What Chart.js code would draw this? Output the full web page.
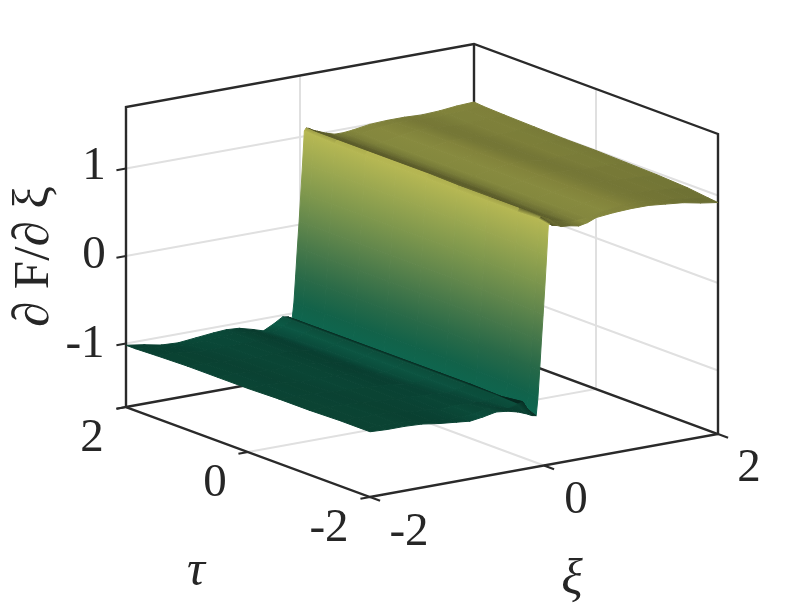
<!DOCTYPE html>
<html><head><meta charset="utf-8">
<style>html,body{margin:0;padding:0;background:#fff}canvas{display:block}</style>
<script src="https://cdn.jsdelivr.net/npm/chart.js@4"></script>
</head><body><canvas id="c" width="793" height="604"></canvas>
<script>
const xiValues=[-2,-1.8,-1.6,-1.4,-1.2,-1,-.85,-.7,-.55,-.42,-.3,-.2,-.14,-.09,-.07,-.05,-.03,-.01,.01,.03,.05,.07,.1,.15,.2,.3,.4,.5,.6,.8,1,1.2,1.4,1.6,1.8,2];
const tauValues=[2,1.85,1.5,1,.5,0,-.5,-1,-1.5,-1.85,-2];
const zRows=[
[-1.02,-1.05,-1.09,-1.10,-1.08,-1.06,-1.05,-1.06,-1.10,-1.14,-1.08,-1.02,-1.03,-1.06,-.88,-.58,-.26,.04,.36,.70,1.06,1.09,1.08,1.05,1.03,.99,.96,.96,.97,1.00,1.01,1.01,1.00,1.01,1.03,1.04],
[-1.02,-1.04,-1.07,-1.08,-1.07,-1.06,-1.05,-1.06,-1.10,-1.12,-1.07,-1.02,-1.03,-1.06,-.88,-.58,-.26,.04,.36,.70,1.05,1.08,1.07,1.05,1.03,.99,.96,.96,.97,1.00,1.02,1.02,1.00,1.01,1.02,1.03],
[-1.01,-1.02,-1.04,-1.06,-1.05,-1.05,-1.05,-1.06,-1.09,-1.11,-1.06,-1.02,-1.03,-1.07,-.88,-.58,-.26,.04,.36,.70,1.04,1.08,1.07,1.05,1.03,.99,.96,.95,.96,1.00,1.03,1.02,1.00,1.00,1.02,1.02],
[-1.00,-1.01,-1.02,-1.04,-1.04,-1.04,-1.05,-1.06,-1.09,-1.10,-1.06,-1.02,-1.03,-1.07,-.88,-.58,-.26,.04,.36,.70,1.03,1.08,1.07,1.05,1.03,.99,.96,.95,.96,1.00,1.03,1.03,1.00,1.00,1.01,1.01],
[-1.00,-1.00,-1.01,-1.03,-1.03,-1.03,-1.04,-1.06,-1.09,-1.10,-1.06,-1.02,-1.03,-1.07,-.88,-.58,-.26,.04,.36,.70,1.03,1.08,1.07,1.05,1.03,.99,.96,.95,.96,1.00,1.03,1.03,1.00,1.00,1.01,1.00],
[-1.00,-1.00,-1.01,-1.03,-1.03,-1.03,-1.04,-1.06,-1.09,-1.10,-1.06,-1.02,-1.03,-1.07,-.88,-.58,-.26,.04,.36,.70,1.03,1.08,1.07,1.05,1.03,.99,.96,.95,.96,1.00,1.03,1.03,1.00,1.00,1.01,1.00],
[-.99,-1.00,-1.00,-1.02,-1.03,-1.03,-1.05,-1.06,-1.08,-1.09,-1.06,-1.02,-1.03,-1.07,-.88,-.58,-.26,.04,.36,.70,1.03,1.07,1.06,1.05,1.03,.99,.96,.95,.96,1.00,1.03,1.03,1.01,1.00,1.00,.99],
[-.99,-.99,-1.00,-1.01,-1.03,-1.04,-1.05,-1.06,-1.07,-1.08,-1.06,-1.02,-1.03,-1.08,-.89,-.59,-.27,.03,.35,.69,1.03,1.07,1.06,1.04,1.02,.98,.95,.95,.96,1.00,1.03,1.03,1.01,1.00,.99,.98],
[-.98,-.99,-.99,-1.00,-1.03,-1.04,-1.06,-1.05,-1.05,-1.06,-1.06,-1.02,-1.04,-1.09,-.90,-.60,-.28,.02,.34,.68,1.03,1.07,1.05,1.03,1.01,.97,.95,.95,.96,1.00,1.03,1.03,1.01,1.00,.98,.96],
[-.98,-.99,-.99,-1.00,-1.03,-1.05,-1.06,-1.05,-1.02,-1.03,-1.06,-1.03,-1.01,-1.10,-.92,-.62,-.29,.01,.33,.67,1.04,1.06,1.01,1.03,1.00,.97,.94,.95,.96,1.00,1.03,1.03,1.01,.99,.96,.93],
[-.98,-.99,-.99,-1.00,-1.03,-1.05,-1.066,-1.045,-1.015,-1.03,-1.06,-1.10,-1.13,-1.14,-.94,-.63,-.30,.00,.32,.66,1.02,1.02,1.00,.99,.97,.96,.94,.96,1.00,1.02,1.03,1.03,1.01,.99,.95,.92]
];
const xiTicks=[-2,0,2], tauTicks=[2,0,-2], zTicks=[-1,0,1];
const zLimits=[-1.726,1.703], xiLimits=[-2,2], tauLimits=[-2,2];
const axisNames={xi:'ξ',tau:'τ',z:'∂ F/∂ ξ'};

const canvas=document.getElementById('c'), ctx=canvas.getContext('2d');
const proj=(xi,tau,z)=>({x:422+87*xi-61*tau, y:269.5-15.75*xi-22.5*tau-87.5*z});
const colorStops=[[-1.1,[14,108,84]],[-.85,[20,102,76]],[-.5,[50,114,76]],[0,[100,140,80]],[.5,[145,166,82]],[1.1,[196,196,88]]];
function cmap(z){
  if(z<=colorStops[0][0])return colorStops[0][1];
  for(let i=1;i<colorStops.length;i++){
    if(z<=colorStops[i][0]){const a=colorStops[i-1],b=colorStops[i],t=(z-a[0])/(b[0]-a[0]);
      return a[1].map((v,k)=>v+(b[1][k]-v)*t);}
  }
  return colorStops[colorStops.length-1][1];
}
const light=[-.85,-.15,.5];
function shade(r,c){
  const n=xiValues.length,m=tauValues.length;
  const c0=Math.max(c-1,0),c1=Math.min(c+1,n-1),r0=Math.max(r-1,0),r1=Math.min(r+1,m-1);
  const s=(zRows[r][c1]-zRows[r][c0])/(xiValues[c1]-xiValues[c0]);
  const t=(zRows[r1][c]-zRows[r0][c])/(tauValues[r1]-tauValues[r0]);
  const nx=-s*.5,ny=-t*.5,len=Math.hypot(nx,ny,1);
  const dot=Math.max(0,(nx*light[0]+ny*light[1]+light[2])/len);
  const f=Math.min(.95,.15+dot);
  return cmap(zRows[r][c]).map(v=>v*f);
}
const css=a=>`rgb(${a.map(v=>Math.round(v)).join(',')})`;
const mix=(a,b)=>a.map((v,i)=>(v+b[i])/2);

const lineSet=(pts,color,width)=>({data:pts,borderColor:color,borderWidth:width,fill:false,pointRadius:0,tension:0});
const grid='#e0e0e0', ink='#2a2a2a';
const back=[], surface=[];
const [xa,xb]=xiLimits,[ta,tb]=tauLimits,[za,zb]=zLimits;
zTicks.forEach(z=>back.push(lineSet([proj(xa,tb,z),proj(xb,tb,z),proj(xb,ta,z)],grid,2)));
xiTicks.slice(1,-1).forEach(v=>back.push(lineSet([proj(v,ta,za),proj(v,tb,za),proj(v,tb,zb)],grid,2)));
tauTicks.slice(1,-1).forEach(v=>back.push(lineSet([proj(xa,v,za),proj(xb,v,za),proj(xb,v,zb)],grid,2)));
back.push(lineSet([proj(xa,tb,za),proj(xb,tb,za),proj(xb,ta,za)],ink,2.4));
back.push(lineSet([proj(xb,tb,za),proj(xb,tb,zb)],ink,2.4));
back.push(lineSet([proj(xa,tb,za),proj(xa,tb,zb),proj(xb,tb,zb),proj(xb,ta,zb),proj(xb,ta,za),proj(xa,ta,za),proj(xa,tb,za)],ink,2.4));
const tk=.11;
zTicks.concat(zLimits[0]).forEach(z=>back.push(lineSet([proj(xa,tb,z),proj(xa-tk,tb,z)],ink,2.2)));
tauTicks.forEach(v=>back.push(lineSet([proj(xa,v,za),proj(xa-tk,v,za)],ink,2.2)));
xiTicks.forEach(v=>back.push(lineSet([proj(v,ta,za),proj(v,ta-tk*1.5,za)],ink,2.2)));

for(let r=0;r<tauValues.length-1;r++){
  for(let c=xiValues.length-2;c>=0;c--){
    const a=proj(xiValues[c],tauValues[r],zRows[r][c]), b=proj(xiValues[c+1],tauValues[r],zRows[r][c+1]),
          d=proj(xiValues[c],tauValues[r+1],zRows[r+1][c]), e=proj(xiValues[c+1],tauValues[r+1],zRows[r+1][c+1]);
    const ex=d.x-a.x,ey=d.y-a.y,el=Math.hypot(ex,ey),ux=ex/el,uy=ey/el;
    const vx=b.x-a.x,vy=b.y-a.y,k=vx*ux+vy*uy;
    const g=ctx.createLinearGradient(a.x,a.y,a.x+vx-k*ux+.001,a.y+vy-k*uy+.001);
    g.addColorStop(0,css(mix(shade(r,c),shade(r+1,c))));
    g.addColorStop(1,css(mix(shade(r,c+1),shade(r+1,c+1))));
    surface.push({data:[a,b,e,d,a],backgroundColor:g,borderColor:g,borderWidth:1,fill:'shape',pointRadius:0,tension:0});
  }
}
// Chart.js paints the first dataset last
const datasets=surface.slice().reverse().concat(back.slice().reverse());

const labels=[
 ['1',94,167],['0',94,256],['-1',85,345],
 ['2',92,439],['0',215,484],['-2',329,529],
 ['-2',409,533],['0',576,501],['2',749,469]
];
const textPlugin={id:'text3d',afterDraw(ch){
  const cx=ch.ctx;cx.save();cx.fillStyle='#262626';cx.textAlign='center';cx.textBaseline='middle';
  cx.font='47px "Liberation Serif"';
  labels.forEach(([t,x,y])=>cx.fillText(t,x,y));
  cx.font='italic 50px "Liberation Serif"';
  cx.fillText(axisNames.tau,196,572);
  cx.fillText(axisNames.xi,572,581);
  cx.translate(48,256.5);cx.rotate(-Math.PI/2);
  cx.textBaseline='alphabetic';
  cx.font='51px "Liberation Serif"';
  cx.fillText(axisNames.z,0,0);
  cx.restore();
}};
new Chart(ctx,{type:'line',data:{datasets},plugins:[textPlugin],options:{
  responsive:false,animation:false,events:[],
  layout:{padding:0},
  plugins:{legend:{display:false},tooltip:{enabled:false},title:{display:false}},
  scales:{x:{type:'linear',min:0,max:793,display:false},y:{type:'linear',min:0,max:604,reverse:true,display:false}}
}});
</script></body></html>
